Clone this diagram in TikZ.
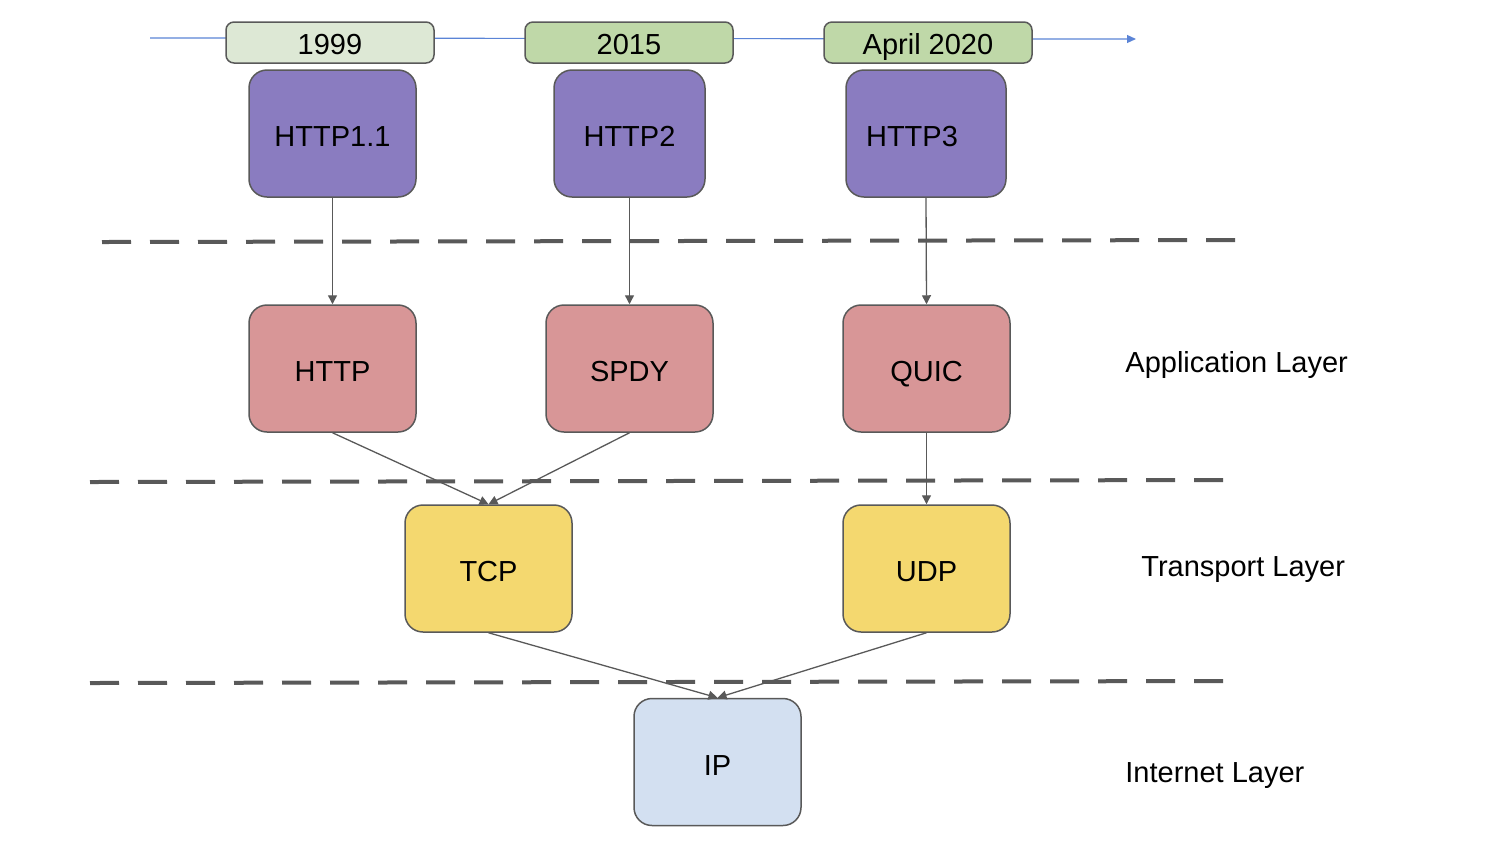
\documentclass[tikz,border=0pt]{standalone}
\usepackage{fontspec}
\setmainfont{Liberation Sans}
\usetikzlibrary{arrows.meta}
\definecolor{edge}{HTML}{595959}
\definecolor{yrA}{HTML}{DDE8D5}
\definecolor{yrB}{HTML}{BFD8A8}
\definecolor{purp}{HTML}{8A7CC0}
\definecolor{pinkc}{HTML}{D89697}
\definecolor{yell}{HTML}{F4D86F}
\definecolor{bluel}{HTML}{D3E0F1}
\definecolor{tline}{HTML}{5B84D6}
\begin{document}
\begin{tikzpicture}[x=0.5pt,y=-0.5pt,
  every node/.style={font=\fontsize{14.5}{17}\selectfont},
  yearbox/.style={draw=edge,line width=0.75pt,rounded corners=4pt,minimum width=104pt,minimum height=20.5pt,inner sep=0pt,text height=12pt,text depth=0pt},
  bigbox/.style={draw=edge,line width=0.75pt,rounded corners=9pt,minimum height=63.5pt,inner sep=0pt,text height=13.4pt,text depth=0pt},
  conn/.style={draw=edge,line width=0.65pt,-{Triangle[length=4.5pt,width=4.5pt]}},
  layerline/.style={draw=edge,line width=2pt,dash pattern=on 14.5pt off 9.5pt},
  lbl/.style={anchor=west,inner sep=0pt}]
\useasboundingbox (0,0) rectangle (1500,843);
% timeline
\coordinate (tl0) at (150,38);
\coordinate (tl1) at (1136,39);
\draw[tline,line width=0.6pt,-{Triangle[length=4.5pt,width=4pt]}] (tl0) -- (tl1);
\node[yearbox,fill=yrA] (y1) at (330,42.5) {1999};
\node[yearbox,fill=yrB] (y2) at (629,42.5) {2015};
\node[yearbox,fill=yrB] (y3) at (928,42.5) {April 2020};
% layer lines
\coordinate (d1a) at (102,242); \coordinate (d1b) at (1252,240);
\coordinate (d2a) at (90,482); \coordinate (d2b) at (1240,480);
\coordinate (d3a) at (90,683); \coordinate (d3b) at (1240,681);
\draw[layerline] (d1a) -- (d1b);
\draw[layerline] (d2a) -- (d2b);
\draw[layerline] (d3a) -- (d3b);
% nodes
\node[bigbox,fill=purp,minimum width=83.5pt] (h11) at (332.5,133.5) {HTTP1.1};
\node[bigbox,fill=purp,minimum width=75.5pt] (h2) at (629.5,133.5) {HTTP2};
\node[bigbox,fill=purp,minimum width=80pt] (h3) at (926,133.5) {HTTP3\hspace*{14pt}\mbox{}};
\node[bigbox,fill=pinkc,minimum width=83.5pt] (http) at (332.5,368.5) {HTTP};
\node[bigbox,fill=pinkc,minimum width=83.5pt] (spdy) at (629.5,368.5) {SPDY};
\node[bigbox,fill=pinkc,minimum width=83.5pt] (quic) at (926.5,368.5) {QUIC};
\node[bigbox,fill=yell,minimum width=83.5pt] (tcp) at (488.5,568.5) {TCP};
\node[bigbox,fill=yell,minimum width=83.5pt] (udp) at (926.5,568.5) {UDP};
\node[bigbox,fill=bluel,minimum width=83.5pt] (ip) at (717.5,762) {IP};
% connectors
\draw[conn] (h11.south) -- (http.north);
\draw[conn] (h2.south) -- (spdy.north);
\draw[conn] (h3.south) -- (quic.north);
\draw[conn] (http.south) -- (tcp.north);
\draw[conn] (spdy.south) -- (tcp.north);
\draw[conn] (quic.south) -- (udp.north);
\draw[conn] (tcp.south) -- (ip.north);
\draw[conn] (udp.south) -- (ip.north);
% labels
\node[lbl] (la) at (1125,365) {Application Layer};
\node[lbl] (lt) at (1141,570) {Transport Layer};
\node[lbl] (li) at (1125,776) {Internet Layer};
\end{tikzpicture}
\end{document}
